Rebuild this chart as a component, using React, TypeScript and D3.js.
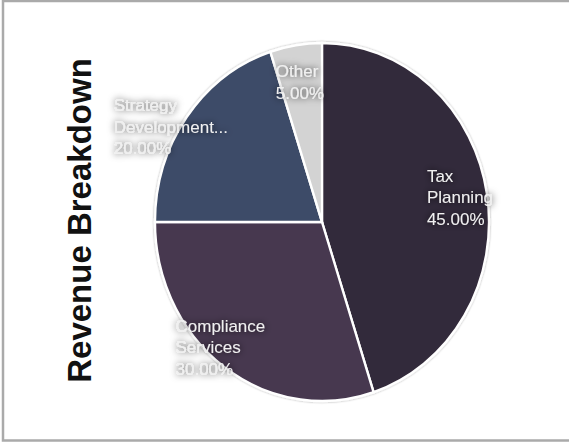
import React, { useEffect, useRef } from "react";
import * as d3 from "d3";

const categories = ["Tax Planning", "Compliance Services", "Strategy Development...", "Other"];
const values = [45, 30, 20, 5];
const colors = ["#33293a", "#473850", "#3e4c67", "#d3d3d3"];
const title = "Revenue Breakdown";

// layout constants (not data)
const W = 569;
const H = 442;
const CX = 322;
const CY = 222;
const RY = 179;
const RX = 167;
// label anchor in polar form: [radius, angle in degrees from 12 o'clock]
const labelPolar: [number, number][] = [
  [150, 80.4],
  [166, 221],
  [188, 300.5],
  [142, 350.4],
];

export default function App() {
  const ref = useRef<SVGSVGElement>(null);

  useEffect(() => {
    const svg = d3.select(ref.current);
    svg.selectAll("*").remove();

    const defs = svg.append("defs");
    const glow = defs.append("filter").attr("id", "glow").attr("x", "-40%").attr("y", "-40%").attr("width", "180%").attr("height", "180%");
    glow.append("feGaussianBlur").attr("in", "SourceAlpha").attr("stdDeviation", 3.5).attr("result", "b");
    glow.append("feFlood").attr("flood-color", "#000").attr("flood-opacity", 0.8).attr("result", "f");
    glow.append("feComposite").attr("in", "f").attr("in2", "b").attr("operator", "in").attr("result", "s");
    const m = glow.append("feMerge");
    m.append("feMergeNode").attr("in", "s");
    m.append("feMergeNode").attr("in", "SourceGraphic");

    const ds = defs.append("filter").attr("id", "pieShadow").attr("x", "-10%").attr("y", "-10%").attr("width", "120%").attr("height", "120%");
    ds.append("feDropShadow").attr("dx", 0).attr("dy", 0).attr("stdDeviation", 1.2).attr("flood-color", "#000").attr("flood-opacity", 0.35);

    svg.append("rect")
      .attr("x", 3).attr("y", 1).attr("width", 700).attr("height", 439.5)
      .attr("fill", "#fff").attr("stroke", "#aaaaaa").attr("stroke-width", 2.5);

    svg.append("text")
      .attr("transform", `translate(91,220.5) rotate(-90)`)
      .attr("text-anchor", "middle")
      .attr("font-family", "'Liberation Sans', Arial, sans-serif")
      .attr("font-weight", "bold")
      .attr("font-size", 33)
      .attr("fill", "#111")
      .text(title);

    const data = categories.map((c, i) => ({ c, v: values[i], i }));
    const total = d3.sum(values);
    const pie = d3.pie<any>().sort(null).value((d: any) => d.v).startAngle(0).endAngle(2 * Math.PI);
    const arcs = pie(data);
    const arc = d3.arc<any>().innerRadius(0).outerRadius(RY);
    const sx = RX / RY;

    const g = svg.append("g").attr("transform", `translate(${CX},${CY})`);
    const gp = g.append("g").attr("transform", `scale(${sx},1)`).attr("filter", "url(#pieShadow)");
    gp.selectAll("path")
      .data(arcs)
      .join("path")
      .attr("d", arc as any)
      .attr("fill", (d: any) => colors[d.data.i])
      .attr("stroke", "#fff")
      .attr("stroke-width", 2.5);

    const fs = 17;
    const lh = 21.5;
    const cap = fs * 0.716;
    arcs.forEach((a: any) => {
      const i = a.data.i;
      const [r, deg] = labelPolar[i];
      const ang = (deg * Math.PI) / 180;
      const cx = sx * r * Math.sin(ang);
      const cy = -r * Math.cos(ang);
      const lines = [...a.data.c.split(" "), ((a.data.v / total) * 100).toFixed(2) + "%"];
      const t = g.append("text")
        .attr("font-family", "'Liberation Sans', Arial, sans-serif")
        .attr("font-size", fs)
        .attr("fill", "#f0f0f0")
        .attr("filter", "url(#glow)");
      const y0 = cy - ((lines.length - 1) * lh) / 2 + cap / 2;
      lines.forEach((ln, k) => {
        t.append("tspan").attr("x", 0).attr("y", y0 + k * lh).text(ln);
      });
      const bb = (t.node() as SVGTextElement).getBBox();
      t.selectAll("tspan").attr("x", cx - bb.width / 2);
    });
  }, []);

  return (
    <svg
      ref={ref}
      width={W}
      height={H}
      style={{ position: "absolute", left: 0, top: 0, background: "#fff" }}
    />
  );
}
